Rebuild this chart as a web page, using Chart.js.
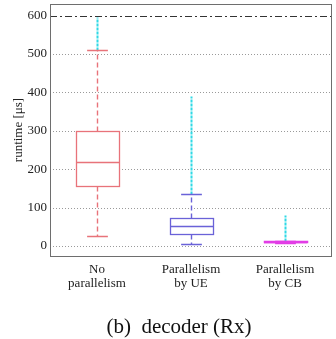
<!DOCTYPE html>
<html>
<head>
<meta charset="utf-8">
<script src="https://cdn.jsdelivr.net/npm/chart.js@4.4.1/dist/chart.umd.min.js"></script>
<style>
  html, body { margin:0; padding:0; background:#fff; }
  #wrap { width:336px; height:339px; }
</style>
</head>
<body>
<div id="wrap"><canvas id="c"></canvas></div>
<script>
// ── datos del boxplot ──────────────────────────────────────────────────────
const CATEGORIAS  = [["No","parallelism"], ["Parallelism","by UE"], ["Parallelism","by CB"]];
const WHISK_BAJO  = [25, 5, 9];
const Q1          = [155, 32, 10];
const MEDIANA     = [218, 51, 11];
const Q3          = [300, 73, 12];
const WHISK_ALTO  = [510, 135, 14];
const OUTLIER_MAX = [596, 390, 82];
const Y_TICKS     = [0, 100, 200, 300, 400, 500, 600];
const LIMITE      = 600;
const CAPTION     = "(b)  decoder (Rx)";

const COLORES = ["#e8737a", "#6a62d8", "#e23ee6"];
const CIAN    = "#2fd9e6";
const SERIF   = "'Liberation Serif', 'Times New Roman', serif";

// ── plugin: marco, grilla, bigotes, medianas, outliers y leyenda inferior ──
const boxPlugin = {
  id: "boxPlugin",
  beforeDatasetsDraw(chart) {
    const { ctx, chartArea: a, scales: { y } } = chart;
    ctx.save();
    ctx.lineWidth = 1;
    ctx.strokeStyle = "#9a9a9a";
    ctx.setLineDash([1, 2]);
    Y_TICKS.filter(t => t !== LIMITE).forEach(t => {
      const py = Math.round(y.getPixelForValue(t)) + 0.5;
      ctx.beginPath(); ctx.moveTo(a.left, py); ctx.lineTo(a.right, py); ctx.stroke();
    });
    // línea límite dash-dot
    ctx.strokeStyle = "#333";
    ctx.setLineDash([7, 3, 2, 3]);
    const pl = Math.round(y.getPixelForValue(LIMITE)) + 0.5;
    ctx.beginPath(); ctx.moveTo(a.left, pl); ctx.lineTo(a.right, pl); ctx.stroke();
    ctx.restore();
  },
  afterDatasetsDraw(chart) {
    const { ctx, chartArea: a, scales: { x, y } } = chart;
    const meta = chart.getDatasetMeta(0);
    ctx.save();
    CATEGORIAS.forEach((_, i) => {
      const cx = Math.round(x.getPixelForValue(i)) + 0.5;
      const bw = meta.data[i].width;
      const cap = bw * 0.24;
      const col = COLORES[i];
      const py = v => Math.round(y.getPixelForValue(v)) + 0.5;
      // outliers
      ctx.strokeStyle = CIAN; ctx.lineWidth = 2; ctx.setLineDash([3, 1]);
      ctx.beginPath(); ctx.moveTo(cx, py(WHISK_ALTO[i])); ctx.lineTo(cx, py(OUTLIER_MAX[i])); ctx.stroke();
      // bigotes
      ctx.strokeStyle = col; ctx.lineWidth = 1.4; ctx.setLineDash([5, 3]);
      ctx.beginPath();
      ctx.moveTo(cx, py(Q3[i])); ctx.lineTo(cx, py(WHISK_ALTO[i]));
      ctx.moveTo(cx, py(Q1[i])); ctx.lineTo(cx, py(WHISK_BAJO[i]));
      ctx.stroke();
      ctx.setLineDash([]);
      ctx.beginPath();
      ctx.moveTo(cx - cap, py(WHISK_ALTO[i])); ctx.lineTo(cx + cap, py(WHISK_ALTO[i]));
      ctx.moveTo(cx - cap, py(WHISK_BAJO[i])); ctx.lineTo(cx + cap, py(WHISK_BAJO[i]));
      ctx.stroke();
      // caja + mediana
      const x0 = Math.round(cx - bw / 2), x1 = Math.round(cx + bw / 2);
      ctx.lineWidth = i === 2 ? 1.5 : 1.3;
      ctx.strokeRect(x0 + 0.5, py(Q3[i]), x1 - x0, py(Q1[i]) - py(Q3[i]));
      ctx.beginPath(); ctx.moveTo(x0, py(MEDIANA[i])); ctx.lineTo(x1, py(MEDIANA[i])); ctx.stroke();
    });
    // marco
    ctx.strokeStyle = "#6e6e6e"; ctx.lineWidth = 1;
    ctx.strokeRect(Math.round(a.left) + 0.5, Math.round(a.top) + 0.5,
                   Math.round(a.right - a.left) - 1, Math.round(a.bottom - a.top));
    // leyenda de la subfigura
    ctx.fillStyle = "#111";
    ctx.font = "21px " + SERIF;
    ctx.textAlign = "center"; ctx.textBaseline = "middle";
    ctx.fillText(CAPTION, 179, 327);
    ctx.restore();
  }
};

new Chart(document.getElementById("c"), {
  type: "bar",
  data: {
    labels: CATEGORIAS,
    datasets: [{
      data: Q1.map((q, i) => [q, Q3[i]]),
      backgroundColor: "#fff",
      borderWidth: 0,
      barPercentage: 0.46,
      categoryPercentage: 1
    }]
  },
  options: {
    responsive: true, maintainAspectRatio: false, animation: false,
    layout: { padding: { top: 4, right: 4, left: 0, bottom: 33 } },
    scales: {
      x: {
        grid: { display: false, drawTicks: false }, border: { display: false },
        ticks: { color: "#222", padding: 6, font: { family: SERIF, size: 13, lineHeight: 1.1 }, maxRotation: 0 },
        afterFit: s => { s.height = 50; s.paddingLeft = 0; s.paddingRight = 0; }
      },
      y: {
        min: -26, max: 630,
        grid: { display: false, drawTicks: false }, border: { display: false },
        afterBuildTicks: s => { s.ticks = Y_TICKS.map(v => ({ value: v })); },
        ticks: { color: "#222", padding: 3, font: { family: SERIF, size: 13 } },
        title: { display: true, text: "runtime [μs]", color: "#222", padding: { top: 11, bottom: 0 },
                 font: { family: SERIF, size: 13 } },
        afterFit: s => { s.width = 50; s.paddingTop = 0; s.paddingBottom = 0; }
      }
    },
    plugins: {
      legend: { display: false },
      tooltip: { enabled: false }
    }
  },
  plugins: [boxPlugin]
});
</script>
</body>
</html>
